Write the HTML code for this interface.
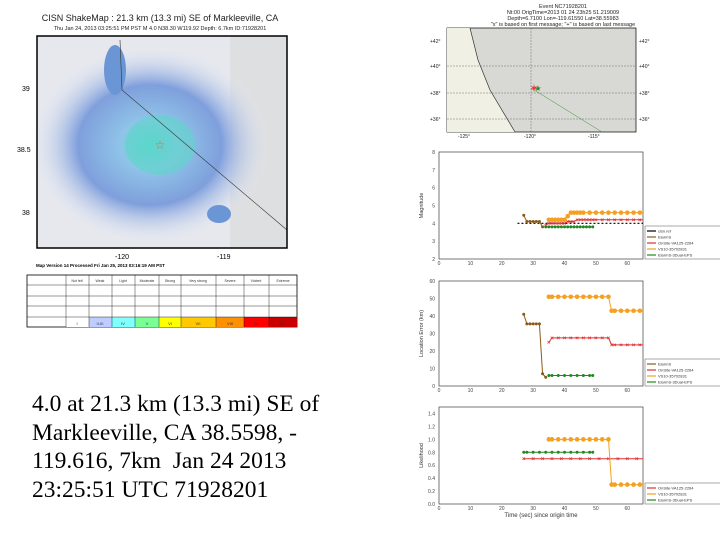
<!DOCTYPE html>
<html><head><meta charset="utf-8"><style>
body{margin:0;width:720px;height:540px;background:#fff;position:relative;overflow:hidden;font-family:"Liberation Sans",sans-serif}
.abs{position:absolute}
#caption{left:32px;top:390px;font-family:"Liberation Serif",serif;font-size:23.5px;line-height:28.5px;color:#000;white-space:pre}
</style></head><body>
<svg class="abs" style="left:0;top:0" width="720" height="540">
<defs>
<radialGradient id="shake" cx="0.5" cy="0.5" r="0.5">
<stop offset="0" stop-color="#56d8d0"/><stop offset="0.25" stop-color="#8fc4e8"/><stop offset="0.6" stop-color="#7f9fdc"/><stop offset="1" stop-color="#e8ecf5" stop-opacity="0"/></radialGradient>
</defs>
<g>
<text x="160" y="21" font-size="9" text-anchor="middle" fill="#222">CISN ShakeMap : 21.3 km (13.3 mi) SE of Markleeville, CA</text>
<text x="160" y="30" font-size="5.5" text-anchor="middle" fill="#222">Thu Jan 24, 2013 03:25:51 PM PST  M 4.0  N38.30 W119.92  Depth: 6.7km  ID:71928201</text>
<rect x="37" y="36" width="250" height="212" fill="#e6e8ee"/>
<rect x="230" y="36" width="57" height="212" fill="#d9d9d9" opacity="0.6"/>
<ellipse cx="150" cy="145" rx="120" ry="100" fill="url(#shake)"/>
<ellipse cx="160" cy="145" rx="35" ry="30" fill="#5ed6c8" opacity="0.6"/>
<ellipse cx="115" cy="70" rx="11" ry="25" fill="#6b96d6"/>
<ellipse cx="219" cy="214" rx="12" ry="9" fill="#6b96d6"/>
<path d="M120 40 L122 90 L287 230" stroke="#333" stroke-width="0.6" fill="none"/>
<text x="160" y="149" font-size="12" fill="#f06040" text-anchor="middle">☆</text>
<rect x="37" y="36" width="250" height="212" fill="none" stroke="#000" stroke-width="1.5"/>
<text x="22" y="91" font-size="7">39</text><text x="17" y="152" font-size="7">38.5</text><text x="22" y="215" font-size="7">38</text>
<text x="115" y="259" font-size="7">-120</text><text x="217" y="259" font-size="7">-119</text>
<text x="36" y="267" font-size="4.5" font-weight="bold">Map Version 14 Processed Fri Jan 25, 2013 03:16:19 AM PST</text>
<g>
<rect x="27" y="275" width="270" height="52" fill="#fff" stroke="#000" stroke-width="0.8"/>
<rect x="66" y="317" width="23" height="10" fill="#fff"/>
<rect x="89" y="317" width="23" height="10" fill="#bfccff"/>
<rect x="112" y="317" width="23" height="10" fill="#80ffff"/>
<rect x="135" y="317" width="24" height="10" fill="#7aff93"/>
<rect x="159" y="317" width="22" height="10" fill="#ffff00"/>
<rect x="181" y="317" width="35" height="10" fill="#ffc800"/>
<rect x="216" y="317" width="28" height="10" fill="#ff9100"/>
<rect x="244" y="317" width="25" height="10" fill="#ff0000"/>
<rect x="269" y="317" width="28" height="10" fill="#c80000"/>
<g stroke="#000" stroke-width="0.4">
<line x1="27" y1="285" x2="297" y2="285"/><line x1="27" y1="296" x2="297" y2="296"/><line x1="27" y1="306" x2="297" y2="306"/><line x1="27" y1="317" x2="297" y2="317"/>
<line x1="66" y1="275" x2="66" y2="327"/><line x1="89" y1="275" x2="89" y2="327"/><line x1="112" y1="275" x2="112" y2="327"/><line x1="135" y1="275" x2="135" y2="327"/><line x1="159" y1="275" x2="159" y2="327"/><line x1="181" y1="275" x2="181" y2="327"/><line x1="216" y1="275" x2="216" y2="327"/><line x1="244" y1="275" x2="244" y2="327"/><line x1="269" y1="275" x2="269" y2="327"/>
</g>
<g font-size="3.5" text-anchor="middle" fill="#333">
<text x="77" y="282">Not felt</text><text x="100" y="282">Weak</text><text x="123" y="282">Light</text><text x="147" y="282">Moderate</text><text x="170" y="282">Strong</text><text x="198" y="282">Very strong</text><text x="230" y="282">Severe</text><text x="256" y="282">Violent</text><text x="283" y="282">Extreme</text>
<text x="77" y="325" font-size="4">I</text><text x="100" y="325" font-size="4">II-III</text><text x="123" y="325" font-size="4">IV</text><text x="147" y="325" font-size="4">V</text><text x="170" y="325" font-size="4">VI</text><text x="198" y="325" font-size="4">VII</text><text x="230" y="325" font-size="4">VIII</text><text x="256" y="325" font-size="4">IX</text><text x="283" y="325" font-size="4">X+</text>
</g>
</g>
</g>
<g>
<g font-size="5.5" text-anchor="middle" fill="#222">
<text x="563" y="8">Event NC71928201</text>
<text x="563" y="14">Nt:00 OrigTime=2013 01 24 23h25 51.219009</text>
<text x="563" y="20">Depth=6.7100 Lon=-119.61550 Lat=38.55983</text>
<text x="563" y="26">"x" is based on first message; "+" is based on last message</text>
</g>
<rect x="447" y="28" width="189" height="104" fill="#d8d8d4" stroke="#000" stroke-width="0.7"/>
<path d="M447 28 L470 28 L478 60 L490 90 L515 132 L447 132 Z" fill="#f0f0e4"/>
<path d="M470 28 L478 60 L490 90 L515 132" stroke="#333" stroke-width="0.7" fill="none"/>
<path d="M531 88 L602 132" stroke="#393" stroke-width="0.5" fill="none"/>
<g stroke="#555" stroke-dasharray="2,1" stroke-width="0.4">
<line x1="447" y1="66" x2="636" y2="66"/><line x1="447" y1="93" x2="636" y2="93"/><line x1="447" y1="119" x2="636" y2="119"/><line x1="531" y1="28" x2="531" y2="132"/>
</g>
<text x="534" y="92" font-size="11" fill="#e33" text-anchor="middle">✶</text>
<text x="538" y="91" font-size="8" fill="#282" text-anchor="middle">★</text>
<g font-size="5" fill="#222"><text x="430" y="43">+42°</text><text x="430" y="68">+40°</text><text x="430" y="95">+38°</text><text x="430" y="121">+36°</text>
<text x="639" y="43">+42°</text><text x="639" y="68">+40°</text><text x="639" y="95">+38°</text><text x="639" y="121">+36°</text>
<text x="458" y="138">-125°</text><text x="524" y="138">-120°</text><text x="588" y="138">-115°</text></g>
</g>
<g id="charts"></g>
</svg>
<div id="caption" class="abs">4.0 at 21.3 km (13.3 mi) SE of
Markleeville, CA 38.5598, -
119.616, 7km  Jan 24 2013
23:25:51 UTC 71928201</div>
<script>
// shared x data (seconds since origin)
const oliveT1=[27,28,29,30,31,32,33];
const oliveMag=[4.45,4.1,4.1,4.1,4.1,4.1,3.8];
const redT1=[34,35,36,37,38,39,40,41,42,43,44,45,46,47,48,49,50,52,54,56,58,60,62,64,66];
const redMag=[3.9,4.0,4.0,4.0,4.0,4.0,4.0,4.1,4.1,4.1,4.2,4.2,4.2,4.2,4.2,4.2,4.2,4.2,4.2,4.2,4.2,4.2,4.2,4.2,4.2];
const orangeT1=[35,36,37,38,39,40,41,42,43,44,45,46,48,50,52,54,56,58,60,62,64,66];
const orangeMag=[4.2,4.2,4.2,4.2,4.2,4.2,4.4,4.6,4.6,4.6,4.6,4.6,4.6,4.6,4.6,4.6,4.6,4.6,4.6,4.6,4.6,4.6];
const greenT1=[34,35,36,37,38,39,40,41,42,43,44,45,46,47,48,49];
const greenMag=[3.8,3.8,3.8,3.8,3.8,3.8,3.8,3.8,3.8,3.8,3.8,3.8,3.8,3.8,3.8,3.8];
const refT=[25,66];const refMag=[4.0,4.0];

const oliveT2=[27,28,29,30,31,32,33,34];
const oliveErr=[41,35.5,35.5,35.5,35.5,35.5,7,5];
const redT2=[35,36,38,40,42,44,46,48,50,52,54,55,56,58,60,62,64,66];
const redErr=[25,27.5,27.5,27.5,27.5,27.5,27.5,27.5,27.5,27.5,27.5,23.5,23.5,23.5,23.5,23.5,23.5,23.5];
const orangeT2=[35,36,38,40,42,44,46,48,50,52,54,55,56,58,60,62,64,66];
const orangeErr=[51,51,51,51,51,51,51,51,51,51,51,43,43,43,43,43,43,43];
const greenT2=[35,36,38,40,42,44,46,48,49];
const greenErr=[6,6,6,6,6,6,6,6,6];

const greenT3=[27,28,30,32,34,36,38,40,42,44,46,48,49];
const greenLik=[0.8,0.8,0.8,0.8,0.8,0.8,0.8,0.8,0.8,0.8,0.8,0.8,0.8];
const redT3=[27,30,33,36,39,42,45,48,51,54,57,60,63,66];
const redLik=[0.7,0.7,0.7,0.7,0.7,0.7,0.7,0.7,0.7,0.7,0.7,0.7,0.7,0.7];
const orangeT3=[35,36,38,40,42,44,46,48,50,52,54,55,56,58,60,62,64,66];
const orangeLik=[1.0,1.0,1.0,1.0,1.0,1.0,1.0,1.0,1.0,1.0,1.0,0.3,0.3,0.3,0.3,0.3,0.3,0.3];

const xTicks=[0,10,20,30,40,50,60];
const magTicks=[2,3,4,5,6,7,8];
const errTicks=[0,10,20,30,40,50,60];
const likTicks=[0.0,0.2,0.4,0.6,0.8,1.0,1.2,1.4];

const NS='http://www.w3.org/2000/svg';
const root=document.getElementById('charts');
function mk(tag,attrs,parent){const e=document.createElementNS(NS,tag);for(const k in attrs)e.setAttribute(k,attrs[k]);(parent||root).appendChild(e);return e;}
function chart(name,top,bottom,ymin,ymax,yticks,ylabel,series,xlabel){
  const L=439,R=643,xmax=65;
  const g=mk('g',{});
  
  
  const cp='clip-'+name;
  const cl=mk('clipPath',{id:cp},g);mk('rect',{x:L,y:top-3,width:R-L,height:bottom-top+6},cl);
  const X=v=>L+(v/xmax)*(R-L), Y=v=>bottom-(v-ymin)/(ymax-ymin)*(bottom-top);
  mk('rect',{x:L,y:top,width:R-L,height:bottom-top,fill:'#fff',stroke:'#555','stroke-width':0.8},g);
  yticks.forEach(t=>{const tx=mk('text',{x:L-4,y:Y(t)+2,'font-size':5,'text-anchor':'end',fill:'#444'},g);tx.textContent=(ymax<2?t.toFixed(1):t);});
  xTicks.forEach(t=>{const tx=mk('text',{x:X(t),y:bottom+6,'font-size':5,'text-anchor':'middle',fill:'#444'},g);tx.textContent=t;});
  const yl=mk('text',{x:L-16,y:(top+bottom)/2,'font-size':5.5,'text-anchor':'middle',fill:'#333',transform:`rotate(-90 ${L-16} ${(top+bottom)/2})`},g);yl.textContent=ylabel;
  if(xlabel){const xl=mk('text',{x:(L+R)/2,y:bottom+13,'font-size':6,'text-anchor':'middle',fill:'#333'},g);xl.textContent=xlabel;}
  const pg=mk('g',{'clip-path':`url(#${cp})`},g);
  series.forEach(s=>{
    const sg=mk('g',{},pg);
    
    
    const pts=s.t.map((t,i)=>X(t)+','+Y(s.v[i])).join(' ');
    mk('polyline',{points:pts,fill:'none',stroke:s.c,'stroke-width':s.dash?1.2:1,'stroke-dasharray':s.dash?'2,2':'none'},sg);
    if(!s.dash) s.t.forEach((t,i)=>{
      if(s.m==='x'){const x=X(t),y=Y(s.v[i]);mk('path',{d:`M${x-1.3} ${y-1.3}L${x+1.3} ${y+1.3}M${x-1.3} ${y+1.3}L${x+1.3} ${y-1.3}`,stroke:s.c,'stroke-width':0.7},sg);}
      else mk('circle',{cx:X(t),cy:Y(s.v[i]),r:s.m==='big'?2.3:1.5,fill:s.c},sg);
    });
  });
  const lg=mk('g',{},g);
  
  
  const lh=series.length*6+3;
  mk('rect',{x:645,y:bottom-lh,width:80,height:lh,fill:'#fff',stroke:'#555','stroke-width':0.5},lg);
  series.forEach((s,i)=>{const y=bottom-lh+5+i*6;mk('line',{x1:647,y1:y,x2:656,y2:y,stroke:s.c,'stroke-width':1.2},lg);const t=mk('text',{x:658,y:y+1.5,'font-size':4,fill:'#333'},lg);t.textContent=s.label;});
}
chart('magnitude-chart',152,259,2,8,magTicks,'Magnitude',[
 {name:'reference-line',t:refT,v:refMag,c:'#000',dash:true,label:'cisn.ref'},
 {name:'olive-series',t:oliveT1,v:oliveMag,c:'#8b5a1a',m:'c',label:'ElarmS'},
 {name:'red-series',t:redT1,v:redMag,c:'#e03030',m:'x',label:'OnSite-VA125-2264'},
 {name:'orange-series',t:orangeT1,v:orangeMag,c:'#f5a020',m:'big',label:'VS10-35702831'},
 {name:'green-series',t:greenT1,v:greenMag,c:'#228822',m:'c',label:'ElarmS-3Dual-EPS'}],null);
chart('location-error-chart',281,386,0,60,errTicks,'Location Error (km)',[
 {name:'olive-series',t:oliveT2,v:oliveErr,c:'#8b5a1a',m:'c',label:'ElarmS'},
 {name:'red-series',t:redT2,v:redErr,c:'#e03030',m:'x',label:'OnSite-VA125-2264'},
 {name:'orange-series',t:orangeT2,v:orangeErr,c:'#f5a020',m:'big',label:'VS10-35702831'},
 {name:'green-series',t:greenT2,v:greenErr,c:'#228822',m:'c',label:'ElarmS-3Dual-EPS'}],null);
chart('likelihood-chart',407,504,0,1.5,likTicks,'Likelihood',[
 {name:'red-series',t:redT3,v:redLik,c:'#e03030',m:'x',label:'OnSite-VA125-2264'},
 {name:'orange-series',t:orangeT3,v:orangeLik,c:'#f5a020',m:'big',label:'VS10-35702831'},
 {name:'green-series',t:greenT3,v:greenLik,c:'#228822',m:'c',label:'ElarmS-3Dual-EPS'}],'Time (sec) since origin time');
</script>
</body></html>
